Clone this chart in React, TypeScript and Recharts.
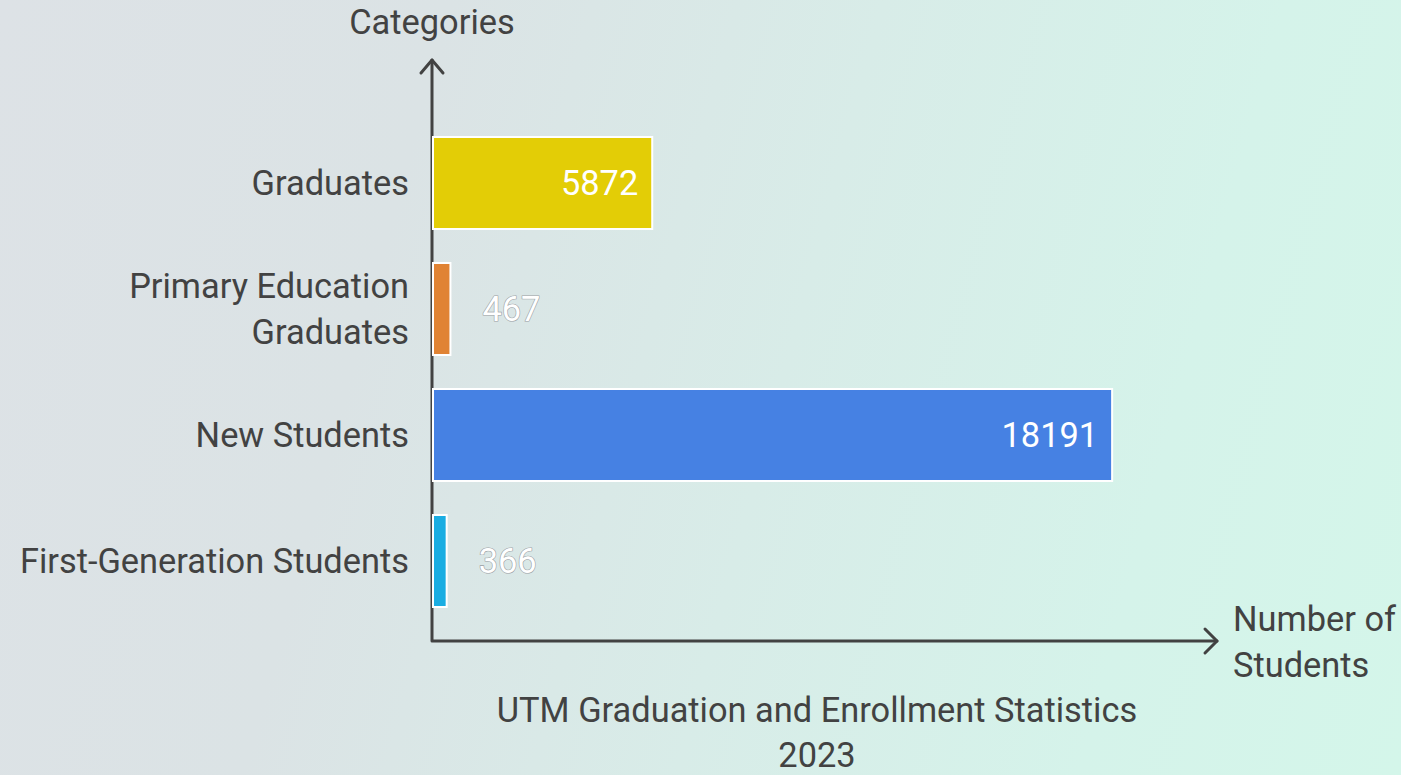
import * as R from "recharts";
import { Bar, BarChart, LabelList, XAxis, YAxis } from "recharts";

const categories = [
  "Graduates",
  "Primary Education Graduates",
  "New Students",
  "First-Generation Students",
];
const tickLines = [
  ["Graduates"],
  ["Primary Education", "Graduates"],
  ["New Students"],
  ["First-Generation Students"],
];
const students = [5872, 467, 18191, 366];
const barColors = ["#e3cd06", "#e08334", "#4681e3", "#1aade2"];

const W = 1401;
const H = 775;
const MARGIN = { top: 120, right: 184, bottom: 151, left: 20 };
const Y_WIDTH = 413;
const FONT = "Roboto, 'Noto Sans', sans-serif";
const FS = 34.4;
const INK = "#424242";

const data = categories.map((name, i) => ({
  name,
  value: students[i],
  fill: barColors[i],
}));

function CategoryTick(props: any) {
  const { x, y, index } = props;
  const lines = tickLines[index] ?? [String(props.payload?.value)];
  const lh = 46;
  const start = y - ((lines.length - 1) * lh) / 2;
  return (
    <text x={x} y={start} textAnchor="end" fill={INK} fontSize={FS} fontFamily={FONT}>
      {lines.map((l, i) => (
        <tspan key={i} x={x} y={start + i * lh} dy="0.35em">
          {l}
        </tspan>
      ))}
    </text>
  );
}

function ValueLabel(props: any) {
  const { x, y, width, height, value } = props;
  const cy = y + height / 2;
  if (width > 120) {
    return (
      <text x={x + width - 14} y={cy} dy="0.35em" textAnchor="end" fill="#ffffff" fontSize={FS} fontFamily={FONT}>
        {value}
      </text>
    );
  }
  return (
    <text
      x={x + width + 32}
      y={cy}
      dy="0.35em"
      textAnchor="start"
      fill="#ffffff"
      stroke="#9aa0a4"
      strokeWidth={1.2}
      paintOrder="stroke"
      fontSize={FS}
      fontFamily={FONT}
    >
      {value}
    </text>
  );
}

function Decorations() {
  const hook = (R as any).usePlotArea;
  const area = hook ? hook() : null;
  const px = area?.x ?? MARGIN.left + Y_WIDTH;
  const py = area?.y ?? MARGIN.top;
  const pw = area?.width ?? W - MARGIN.left - Y_WIDTH - MARGIN.right;
  const ph = area?.height ?? H - MARGIN.top - MARGIN.bottom;
  const ax = px - 1;
  const ay = py + ph + 17;
  const topY = py - 60;
  const rightX = px + pw;
  return (
    <g>
      <g stroke={INK} strokeWidth={3} fill="none" strokeLinecap="round" strokeLinejoin="round">
        <polyline points={`${ax},${topY} ${ax},${ay} ${rightX},${ay}`} />
        <polyline points={`${ax - 11},${topY + 13} ${ax},${topY} ${ax + 11},${topY + 13}`} />
        <polyline points={`${rightX - 12},${ay - 12} ${rightX},${ay} ${rightX - 12},${ay + 12}`} />
      </g>
      <text x={ax} y={34} textAnchor="middle" fill={INK} fontSize={FS} fontFamily={FONT}>
        Categories
      </text>
      <text fill={INK} fontSize={FS} fontFamily={FONT}>
        <tspan x={rightX + 16} y={ay - 10}>Number of</tspan>
        <tspan x={rightX + 16} y={ay + 36}>Students</tspan>
      </text>
      <text fill={INK} fontSize={FS} fontFamily={FONT} textAnchor="middle">
        <tspan x={px + pw / 2 - 8} y={722}>UTM Graduation and Enrollment Statistics</tspan>
        <tspan x={px + pw / 2 - 8} y={767}>2023</tspan>
      </text>
    </g>
  );
}

export default function App() {
  return (
    <div
      style={{
        position: "fixed",
        left: 0,
        top: 0,
        width: W,
        height: H,
        overflow: "hidden",
        background: "linear-gradient(105deg, #dde2e6 0%, #dbe3e5 28%, #d8ece8 55%, #d5f3ea 80%, #d4f6ea 100%)",
      }}
    >
      <BarChart width={W} height={H} data={data} layout="vertical" margin={MARGIN} barCategoryGap={17}>
        <XAxis type="number" domain={[0, 21000]} hide />
        <YAxis
          type="category"
          dataKey="name"
          width={Y_WIDTH}
          axisLine={false}
          tickLine={false}
          tickSize={0}
          tickMargin={24}
          tick={<CategoryTick />}
          interval={0}
        />
        <Bar dataKey="value" stroke="#ffffff" strokeWidth={2} isAnimationActive={false}>
          <LabelList dataKey="value" content={<ValueLabel />} />
        </Bar>
        <Decorations />
      </BarChart>
    </div>
  );
}
